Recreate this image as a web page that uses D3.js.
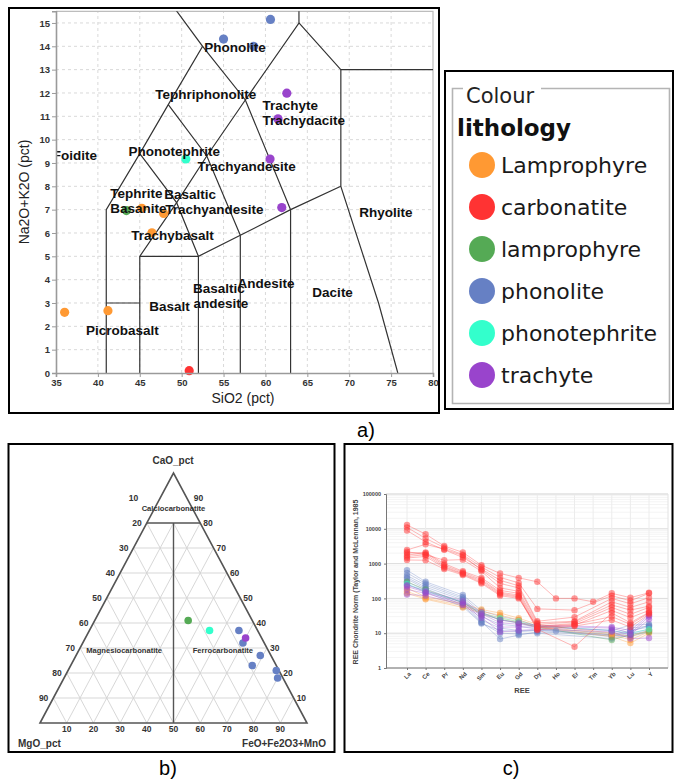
<!DOCTYPE html>
<html>
<head>
<meta charset="utf-8">
<script src="https://cdn.jsdelivr.net/npm/d3@7/dist/d3.min.js"></script>
<style>
  html, body { margin: 0; padding: 0; background: #fff; }
  svg { display: block; }
</style>
</head>
<body>
<svg id="fig" width="674" height="780"></svg>
<script>
// ---------- lithology classes shared by all three panels ----------
const lithologies = ["Lamprophyre", "carbonatite", "lamprophyre", "phonolite", "phonotephrite", "trachyte"];
const lithColours = ["#ff9933", "#ff3333", "#55aa55", "#6680c4", "#33ffcc", "#9944cc"];

// ---------- a) total alkali vs silica ----------
const tasLith   = [0, 0, 0, 0, 0, 1, 2, 3, 3, 3, 4, 5, 5, 5, 5];
const tasSiO2   = [45.25, 47.85, 46.45, 36.03, 41.2, 50.9, 43.4, 60.6, 55.0, 58.6, 50.5, 62.55, 61.5, 60.55, 61.95];
const tasAlkali = [7.06, 6.84, 6.01, 2.60, 2.67, 0.1, 6.96, 15.15, 14.31, 14.0, 9.17, 11.99, 10.89, 9.17, 7.09];
const tasXTicks = [35, 40, 45, 50, 55, 60, 65, 70, 75, 80];
const tasYTicks = [0, 1, 2, 3, 4, 5, 6, 7, 8, 9, 10, 11, 12, 13, 14, 15];

// field boundaries of the TAS classification (SiO2, Na2O+K2O)
const tasBoundaries = [
  [[41, 0], [41, 7], [45, 9.4], [48.4, 11.5], [52.5, 14], [48.4, 16]],
  [[41, 3], [45, 3]],
  [[45, 0], [45, 5], [49.4, 7.3], [53, 9.3], [57.6, 11.7], [64, 15], [64, 16]],
  [[45, 5], [52, 5], [57, 5.9], [63, 7], [69, 8]],
  [[52, 0], [52, 5]],
  [[57, 0], [57, 5.9]],
  [[63, 0], [63, 7]],
  [[45, 9.4], [49.4, 7.3], [52, 5]],
  [[48.4, 11.5], [53, 9.3], [57, 5.9]],
  [[52.5, 14], [57.6, 11.7], [63, 7]],
  [[64, 15], [69, 13], [69, 8], [73.5, 3], [75.8, 0]],
  [[69, 13], [80, 13]]
];
const tasFieldNames  = ["Phonolite", "Tephriphonolite", "Trachyte", "Trachydacite", "Foidite", "Phonotephrite",
                        "Trachyandesite", "Tephrite", "Basanite", "Basaltic", "Trachyandesite", "Trachybasalt",
                        "Rhyolite", "Andesite", "Basaltic", "andesite", "Dacite", "Basalt", "Picrobasalt"];
const tasFieldSiO2   = [52.7, 46.84, 59.64, 59.64, 34.6, 43.66, 51.89, 41.48, 41.48, 47.92, 48.04, 43.98,
                        71.21, 56.66, 51.34, 51.42, 65.6, 46.13, 38.58];
const tasFieldAlkali = [13.94, 11.92, 11.46, 10.84, 9.34, 9.51, 8.84, 7.70, 7.03, 7.66, 7.01, 5.91,
                        6.87, 3.84, 3.63, 2.99, 3.44, 2.87, 1.84];

// ---------- b) CaO - MgO - (FeO+Fe2O3+MnO) ternary ----------
const ternLith = [2, 4, 3, 3, 3, 3, 3, 3, 5];
const ternCaO  = [41, 37, 37, 32, 27, 23, 21, 18, 34];
const ternMgO  = [24, 18, 7, 8, 4, 9, 1, 2, 6];
const ternFeO  = [35, 45, 56, 60, 69, 68, 78, 80, 60];
const ternTicks = [10, 20, 30, 40, 50, 60, 70, 80, 90];
const ternFieldNames = ["Calciocarbonatite", "Magnesiocarbonatite", "Ferrocarbonatite"];
// field label anchors as (CaO, FeO) fractions
const ternFieldCaO = [0.86, 0.29, 0.29];
const ternFieldFeO = [0.07, 0.17, 0.54];

// ---------- c) chondrite-normalised REE ----------
const reeElements = ["La", "Ce", "Pr", "Nd", "Sm", "Eu", "Gd", "Dy", "Ho", "Er", "Tm", "Yb", "Lu", "Y"];
const reeYTicks = [1, 10, 100, 1000, 10000, 100000];
const reeLith = [3, 3, 3, 3, 3, 3, 3, 0, 0, 0, 2, 4, 5, 5, 5, 5,
                 1, 1, 1, 1, 1, 1, 1, 1, 1, 1];
const reeSamples = [
  [650, 300, null, 125, 45, 30, 24, 16, null, null, null, 12, 17, 18],
  [540, 270, null, 110, 38, 24, 20, 14, null, null, null, 10, 14, 16],
  [450, 240, null, 100, 30, 18, 16, 13, null, null, null, 9, 12, 15],
  [400, 210, null, 90, 24, 14, 12, 12, 11.6, null, null, 8, 10, 13],
  [360, 190, null, 75, 21, 6.8, 8.8, 11, null, null, null, 8.5, 11, 17],
  [300, 170, null, 65, 20, 10, 9.5, 10, null, null, null, 7, 9, 12],
  [260, 150, null, 58, 19, 12, 11, 12, null, null, null, 9, 8, 11],
  [200, 110, null, 70, 48, 38, 27, 18, null, null, null, 10, 8, 12],
  [160, 100, null, 62, 42, 33, 24, 16, null, null, null, 9, 6.5, 11],
  [140, 95, null, 55, 38, 28, 21, 15, null, null, null, 8, 5.2, 10],
  [300, 180, null, 75, 35, 25, 20, 15, null, null, null, 6.4, 9, 11],
  [260, 160, null, 80, 38, 27, 22, 16, null, null, null, 12, 10, 13],
  [130, 120, null, 65, 28, 10.9, 12, 13, null, null, null, 11, 7, 7.3],
  [180, 140, null, 70, 32, 15, 15, 15, null, null, null, 12, 9, 25],
  [220, 150, null, 78, 36, 20, 18, 16, null, null, null, 14, 10, 30],
  [240, 165, null, 85, 40, 24, 20, 17, null, null, null, 15, 12, 33],
  [12900, 7000, 3200, 2100, 900, 520, 390, 300, 100, 100, 80, 140, 105, 145],
  [11000, 5300, 2900, 1800, 800, 400, 280, 50, null, 46, null, 120, 85, 140],
  [8900, 4200, 2500, 1500, 700, 330, 230, 22, null, 29, null, 100, 70, 105],
  [2460, 3600, 2600, 1700, 650, 270, 200, 20, null, 22, null, 80, 55, 80],
  [2200, 1800, 1250, 1300, 600, 200, 160, 18, null, 21, null, 65, 46, 60],
  [2000, 2100, 1000, 600, 390, 170, 140, 16, null, 19, null, 55, 35, 55],
  [1770, 2000, 900, 560, 350, 150, 125, 14, null, 17, null, 45, 28, 45],
  [1600, 1800, 820, 520, 320, 140, 115, 13, null, 4.1, null, 38, 20, 40],
  [1450, 1600, 760, 500, 290, 130, 108, 12.4, null, 16, null, 24, 15, 35],
  [1270, 1250, 700, 470, 270, 120, 100, 15, null, 18, null, 30, 18, 38]
];

// =====================================================================
const svg = d3.select("#fig");
const SANS = "'Liberation Sans', Arial, Helvetica, sans-serif";
svg.append("rect").attr("width", 674).attr("height", 780).attr("fill", "#fff");

function frame(x, y, w, h) {
  svg.append("rect").attr("x", x).attr("y", y).attr("width", w).attr("height", h)
    .attr("fill", "none").attr("stroke", "#000").attr("stroke-width", 2);
}
function caption(text, x, y) {
  svg.append("text").attr("x", x).attr("y", y).attr("text-anchor", "middle")
    .attr("font-family", SANS).attr("font-size", 20).attr("fill", "#000").text(text);
}

// ---------------------------- panel a --------------------------------
(function () {
  const g = svg.append("g");
  const x = d3.scaleLinear().domain([35, 80]).range([56, 433]);
  const y = d3.scaleLinear().domain([0, 15.5]).range([373, 11.3]);

  g.append("defs").append("clipPath").attr("id", "clipA")
    .append("rect").attr("x", x(35)).attr("y", y(15.5))
    .attr("width", x(80) - x(35)).attr("height", y(0) - y(15.5));

  // dashed grid
  g.append("g").selectAll("line").data(tasXTicks.slice(1, -1)).join("line")
    .attr("x1", d => x(d)).attr("x2", d => x(d)).attr("y1", y(0)).attr("y2", y(15.5))
    .attr("stroke", "#d9d9d9").attr("stroke-dasharray", "3,3");
  g.append("g").selectAll("line").data(tasYTicks.slice(1)).join("line")
    .attr("x1", x(35)).attr("x2", x(80)).attr("y1", d => y(d)).attr("y2", d => y(d))
    .attr("stroke", "#d9d9d9").attr("stroke-dasharray", "3,3");
  // plot frame (top and right)
  g.append("path").attr("d", `M${x(35)},${y(15.5)}H${x(80)}V${y(0)}`)
    .attr("fill", "none").attr("stroke", "#bdbdbd").attr("stroke-width", 1.2);

  // classification boundaries
  const line = d3.line().x(d => x(d[0])).y(d => y(d[1]));
  g.append("g").attr("clip-path", "url(#clipA)")
    .selectAll("path").data(tasBoundaries).join("path")
    .attr("d", line).attr("fill", "none").attr("stroke", "#333").attr("stroke-width", 1.2);

  // samples
  g.append("g").selectAll("circle").data(tasSiO2).join("circle")
    .attr("cx", d => x(d)).attr("cy", (d, i) => y(tasAlkali[i])).attr("r", 4.6)
    .attr("fill", (d, i) => lithColours[tasLith[i]]);

  // field names
  g.append("g").attr("clip-path", "url(#clipA)")
    .selectAll("text").data(tasFieldNames).join("text")
    .attr("x", (d, i) => x(tasFieldSiO2[i])).attr("y", (d, i) => y(tasFieldAlkali[i]))
    .attr("dominant-baseline", "central")
    .attr("font-family", SANS).attr("font-size", 13.5).attr("font-weight", "bold")
    .attr("fill", "#111").text(d => d);

  // axes
  const xa = g.append("g").attr("transform", `translate(0,${y(0)})`)
    .call(d3.axisBottom(x).tickValues(tasXTicks).tickSize(4).tickPadding(2));
  const ya = g.append("g").attr("transform", `translate(${x(35)},0)`)
    .call(d3.axisLeft(y).tickValues(tasYTicks).tickSize(4).tickPadding(2));
  [xa, ya].forEach(a => {
    a.select(".domain").attr("stroke", "#9a9a9a").attr("stroke-width", 1.6);
    a.selectAll(".tick line").attr("stroke", "#9a9a9a");
    a.selectAll(".tick text").attr("font-family", SANS).attr("font-size", 9.5)
      .attr("font-weight", "bold").attr("fill", "#333");
  });
  g.append("text").attr("x", 243).attr("y", 403).attr("text-anchor", "middle")
    .attr("font-family", SANS).attr("font-size", 14).attr("fill", "#222").text("SiO2 (pct)");
  g.append("text").attr("transform", "translate(29,192) rotate(-90)").attr("text-anchor", "middle")
    .attr("font-family", SANS).attr("font-size", 14).attr("fill", "#222").text("Na2O+K2O (pct)");

  frame(9, 8, 430, 405);
  caption("a)", 366, 437);
})();

// ---------------------------- legend ---------------------------------
(function () {
  const g = svg.append("g");
  const LEG = "'DejaVu Sans', Verdana, sans-serif";
  frame(445, 71, 228, 338);
  // etched group box
  g.append("path").attr("d", "M463,88.5H452.5V403.5H669.5V88.5H541")
    .attr("fill", "none").attr("stroke", "#b4b4b4").attr("stroke-width", 1.6);
  g.append("text").attr("x", 466).attr("y", 96).attr("dominant-baseline", "central")
    .attr("font-family", LEG).attr("font-size", 21).attr("fill", "#222").text("Colour");
  g.append("text").attr("x", 457).attr("y", 128).attr("dominant-baseline", "central")
    .attr("font-family", LEG).attr("font-size", 23).attr("font-weight", "bold")
    .attr("fill", "#111").text("lithology");
  const row = d3.scalePoint().domain(lithologies).range([165, 375]);
  const items = g.selectAll("g.item").data(lithologies).join("g")
    .attr("transform", d => `translate(0,${row(d)})`);
  items.append("circle").attr("cx", 482).attr("cy", 0).attr("r", 13)
    .attr("fill", (d, i) => lithColours[i]);
  items.append("text").attr("x", 501).attr("y", 0).attr("dominant-baseline", "central")
    .attr("font-family", LEG).attr("font-size", 22).attr("fill", "#1a1a1a").text(d => d);
})();

// ---------------------------- panel b --------------------------------
(function () {
  const g = svg.append("g");
  const tx = d3.scaleLinear().domain([0, 1]).range([40, 307]);
  const ty = d3.scaleLinear().domain([0, 1]).range([723, 473]);
  // (CaO fraction, FeO fraction) -> screen
  const P = (c, f) => [tx(f + c / 2), ty(c)];
  const seg = (a, b) => `M${a[0]},${a[1]}L${b[0]},${b[1]}`;

  // light grid below the calciocarbonatite limit
  const grid = g.append("g").attr("stroke", "#d2d2d2").attr("stroke-width", 0.9).attr("fill", "none");
  ternTicks.forEach(t => {
    const k = t / 100;
    if (k < 0.8) grid.append("path").attr("d", seg(P(k, 0), P(k, 1 - k)));
    grid.append("path").attr("d", seg(P(0, k), P(Math.min(1 - k, 0.8), k)));
    const cTop = Math.min(1 - k, 0.8);
    grid.append("path").attr("d", seg(P(0, 1 - k), P(cTop, 1 - k - cTop)));
  });

  // triangle and field boundaries
  g.append("path").attr("d", `M${P(0, 0)}L${P(1, 0)}L${P(0, 1)}Z`)
    .attr("fill", "none").attr("stroke", "#555").attr("stroke-width", 1.6);
  g.append("path").attr("d", seg(P(0.8, 0), P(0.8, 0.2)))
    .attr("stroke", "#555").attr("stroke-width", 1.4);
  g.append("path").attr("d", seg(P(0.8, 0.1), P(0, 0.5)))
    .attr("stroke", "#555").attr("stroke-width", 1.4);

  // tick labels
  const tick = (t, xx, yy, anchor) => g.append("text").attr("x", xx).attr("y", yy)
    .attr("text-anchor", anchor).attr("dominant-baseline", "central")
    .attr("font-family", SANS).attr("font-size", 8.5).attr("font-weight", "bold")
    .attr("fill", "#333").text(t);
  ternTicks.forEach(t => {
    const k = t / 100;                 // depth below the apex
    const left = P(1 - k, 0), right = P(1 - k, k);
    tick(t, left[0] - (k < 0.15 ? 22 : 5), left[1], "end");
    tick(100 - t, right[0] + (k < 0.15 ? 7 : 3), right[1], "start");
    tick(t, P(0, k)[0], 729, "middle");
  });

  // vertex names
  const vtx = (t, xx, yy, anchor) => g.append("text").attr("x", xx).attr("y", yy)
    .attr("text-anchor", anchor).attr("dominant-baseline", "central")
    .attr("font-family", SANS).attr("font-size", 10).attr("font-weight", "bold")
    .attr("fill", "#333").text(t);
  vtx("CaO_pct", 173, 460, "middle");
  vtx("MgO_pct", 18, 743, "start");
  vtx("FeO+Fe2O3+MnO", 326, 743, "end");

  // field names
  g.append("g").selectAll("text").data(ternFieldNames).join("text")
    .attr("x", (d, i) => P(ternFieldCaO[i], ternFieldFeO[i])[0])
    .attr("y", (d, i) => P(ternFieldCaO[i], ternFieldFeO[i])[1])
    .attr("text-anchor", "middle").attr("dominant-baseline", "central")
    .attr("font-family", SANS).attr("font-size", 7.6).attr("font-weight", "bold")
    .attr("fill", "#333").text(d => d);

  // samples
  g.append("g").selectAll("circle").data(ternCaO).join("circle")
    .attr("cx", (d, i) => { const s = d + ternMgO[i] + ternFeO[i]; return P(d / s, ternFeO[i] / s)[0]; })
    .attr("cy", (d, i) => { const s = d + ternMgO[i] + ternFeO[i]; return P(d / s, ternFeO[i] / s)[1]; })
    .attr("r", 3.8).attr("fill", (d, i) => lithColours[ternLith[i]]);

  frame(8.5, 444, 326, 308);
  caption("b)", 168, 775);
})();

// ---------------------------- panel c --------------------------------
(function () {
  const g = svg.append("g");
  const x = d3.scalePoint().domain(reeElements).range([407, 649]);
  const y = d3.scaleLog().domain([1, 100000]).range([668, 494]);
  const L = 386, R = 668;

  // minor and major grid
  const minor = [];
  reeYTicks.slice(0, -1).forEach(t => { for (let m = 2; m < 10; m++) minor.push(t * m); });
  g.append("g").selectAll("line").data(minor).join("line")
    .attr("x1", L).attr("x2", R).attr("y1", d => y(d)).attr("y2", d => y(d))
    .attr("stroke", "#f1f1f1").attr("stroke-width", 0.8);
  g.append("g").selectAll("line").data(reeYTicks).join("line")
    .attr("x1", L).attr("x2", R).attr("y1", d => y(d)).attr("y2", d => y(d))
    .attr("stroke", "#dcdcdc").attr("stroke-width", 1);
  g.append("g").selectAll("line").data(reeElements).join("line")
    .attr("x1", d => x(d)).attr("x2", d => x(d)).attr("y1", y(1)).attr("y2", y(100000))
    .attr("stroke", "#ececec").attr("stroke-width", 1);
  g.append("path").attr("d", `M${L},${y(100000)}H${R}V${y(1)}`)
    .attr("fill", "none").attr("stroke", "#e2e2e2");

  // sample patterns
  const line = d3.line().x(d => x(d.el)).y(d => y(d.v));
  const pts = reeSamples.map((vals, i) => ({
    lith: reeLith[i],
    p: vals.map((v, j) => ({ el: reeElements[j], v })).filter(d => d.v != null)
  }));
  g.append("g").selectAll("path").data(pts).join("path")
    .attr("d", d => line(d.p)).attr("fill", "none")
    .attr("stroke", d => lithColours[d.lith]).attr("stroke-width", 0.9)
    .attr("stroke-opacity", 0.38);
  const dots = g.append("g").selectAll("g").data(pts).join("g")
    .attr("fill", d => lithColours[d.lith]).attr("fill-opacity", 0.5);
  dots.selectAll("circle").data(d => d.p).join("circle")
    .attr("cx", d => x(d.el)).attr("cy", d => y(d.v)).attr("r", 3.2);

  // axes
  const xa = g.append("g").attr("transform", `translate(0,${y(1)})`)
    .call(d3.axisBottom(x).tickSize(2).tickFormat(""));
  xa.select(".domain").attr("d", `M${L},0H${R}`);
  const ya = g.append("g").attr("transform", `translate(${L},0)`)
    .call(d3.axisLeft(y).tickValues(reeYTicks).tickSize(2).tickFormat(d3.format("d")));
  [xa, ya].forEach(a => {
    a.select(".domain").attr("stroke", "#777");
    a.selectAll(".tick line").attr("stroke", "#777");
  });
  ya.selectAll(".tick text").attr("font-family", SANS).attr("font-size", 5.5)
    .attr("font-weight", "bold").attr("fill", "#444");
  g.append("g").selectAll("text").data(reeElements).join("text")
    .attr("transform", d => `translate(${x(d) + 3},${y(1) + 5}) rotate(-45)`)
    .attr("text-anchor", "end").attr("dominant-baseline", "central")
    .attr("font-family", SANS).attr("font-size", 6).attr("font-weight", "bold")
    .attr("fill", "#444").text(d => d);
  g.append("text").attr("x", 522).attr("y", 690).attr("text-anchor", "middle")
    .attr("dominant-baseline", "central")
    .attr("font-family", SANS).attr("font-size", 7.5).attr("font-weight", "bold")
    .attr("fill", "#444").text("REE");
  g.append("text").attr("transform", "translate(355,582) rotate(-90)")
    .attr("text-anchor", "middle").attr("dominant-baseline", "central")
    .attr("font-family", SANS).attr("font-size", 7).attr("font-weight", "bold")
    .attr("fill", "#444").text("REE Chondrite Norm (Taylor and McLennan, 1985");

  frame(344.5, 444, 328, 308);
  caption("c)", 511, 775);
})();
</script>
</body>
</html>
